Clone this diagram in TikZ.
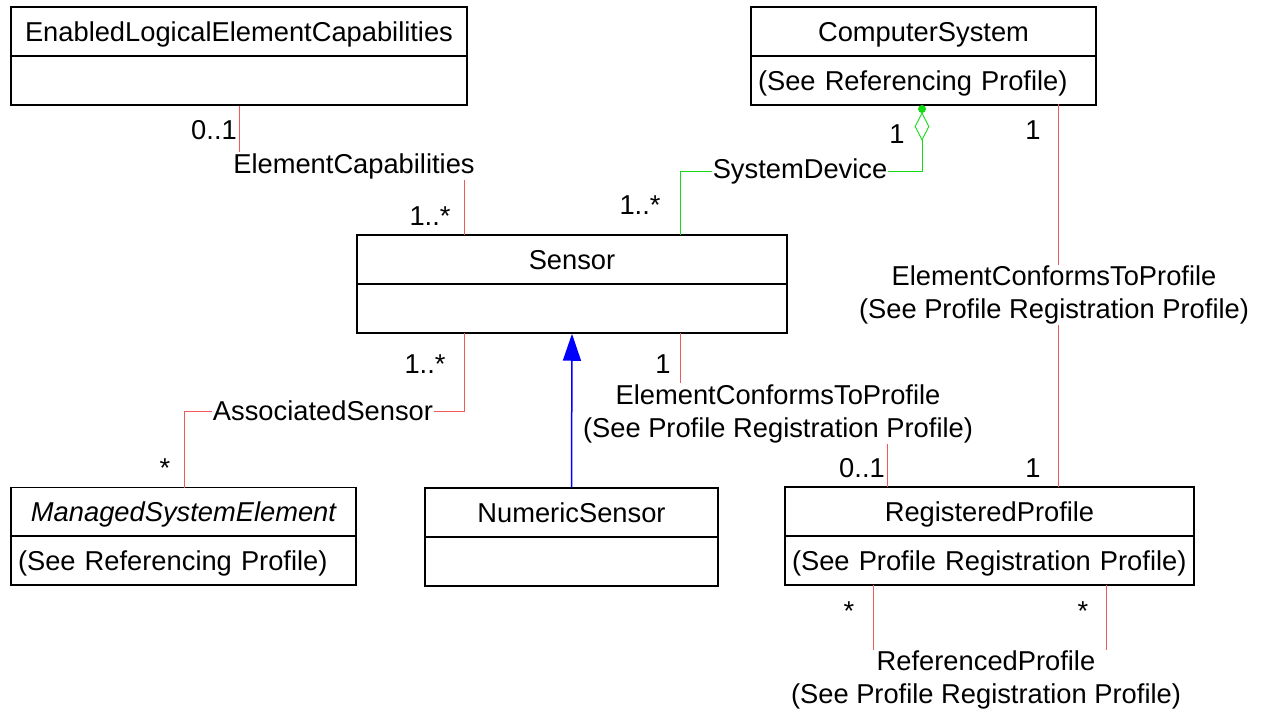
\documentclass[tikz,border=0pt]{standalone}
\usepackage{fontspec}
\setmainfont{Liberation Sans}
\usetikzlibrary{arrows.meta,shapes.geometric}
\definecolor{assocred}{RGB}{240,90,90}
\definecolor{sysgreen}{RGB}{20,220,20}
\tikzset{
    every node/.style={font=\fontsize{27.3}{33}\selectfont},
    classbox/.style={draw, rectangle, line width=1.5pt, inner sep=0pt, minimum height=49pt, text height=20pt, text depth=1pt},
    classbody/.style={classbox, align=left, inner xsep=7pt},
    assoclabel/.style={align=center, inner sep=1pt},
    mult/.style={anchor=base, inner sep=0pt},
    assoc/.style={draw=assocred, line width=0.9pt},
    sysdev/.style={draw=sysgreen, line width=0.9pt},
    inherit/.style={draw=blue, line width=1.5pt, -{Triangle[width=18pt,length=27pt]}}
}
\begin{document}
\begin{tikzpicture}[x=1pt,y=-1pt]
                    \useasboundingbox (0,0) rectangle (1262,715);
                    \node[classbox, minimum width=456pt] (elecH) at (239,31.5) {EnabledLogicalElementCapabilities};
                    \node[classbox, minimum width=456pt] (elecB) at (239,80.5) {};
                    \node[classbox, minimum width=345pt] (csH) at (923.5,31.5) {ComputerSystem};
                    \node[classbody, text width=331pt] (csB) at (923.5,80.5) {(See Referencing Profile)};
                    \node[classbox, minimum width=430pt] (sensorH) at (572,259.5) {Sensor};
                    \node[classbox, minimum width=430pt] (sensorB) at (572,308.5) {};
                    \node[classbox, minimum width=345pt] (mseH) at (183.5,512) {\itshape ManagedSystemElement};
                    \node[classbody, text width=331pt] (mseB) at (183.5,560.5) {(See Referencing Profile)};
                    \node[classbox, minimum width=293pt] (numH) at (571.5,512.5) {NumericSensor};
                    \node[classbox, minimum width=293pt] (numB) at (571.5,561.5) {};
                    \node[classbox, minimum width=409pt] (rpH) at (989.5,511.5) {RegisteredProfile};
                    \node[classbody, text width=395pt] (rpB) at (989.5,560.5) {(See Profile Registration Profile)};

                    \node[assoclabel] (capLbl) at (354,166) {ElementCapabilities};
                    \coordinate (capEnd) at (464,235);
                    \draw[assoc] (elecB.south) -- (elecB.south |- capLbl.north);
                    \draw[assoc] (capLbl.south -| capEnd) -- (capEnd);
                    \node[mult] at (214,139) {0..1};
                    \node[mult] at (430,225) {1..*};

                    \node[assoclabel] (sdLbl) at (800,171) {SystemDevice};
                    \node[draw=sysgreen, line width=0.9pt, diamond, inner sep=0pt, minimum width=14pt, minimum height=27pt] (sdDia) at (922,126.5) {};
                    \node[circle, fill=sysgreen, inner sep=0pt, minimum size=8pt] (sdDot) at (922,109) {};
                    \coordinate (sdEnd) at (680,235);
                    \draw[sysdev] (sdEnd) |- (sdLbl.west);
                    \draw[sysdev] (sdLbl.east) -| (sdDia.south);
                    \node[mult] at (640,214) {1..*};
                    \node[mult] at (897,143) {1};

                    \node[assoclabel] (ecpLbl) at (1054,295) {ElementConformsToProfile\\(See Profile Registration Profile)};
                    \coordinate (ecpTop) at (1058,104);
                    \coordinate (ecpBot) at (1058,487);
                    \draw[assoc] (ecpTop) -- (ecpTop |- ecpLbl.north);
                    \draw[assoc] (ecpLbl.south -| ecpBot) -- (ecpBot);
                    \node[mult] at (1033,139) {1};
                    \node[mult] at (1033,477) {1};

                    \node[assoclabel] (scpLbl) at (778,413.5) {ElementConformsToProfile\\(See Profile Registration Profile)};
                    \coordinate (scpTop) at (680,333);
                    \coordinate (scpBot) at (887,487);
                    \draw[assoc] (scpTop) -- (scpTop |- scpLbl.north);
                    \draw[assoc] (scpLbl.south -| scpBot) -- (scpBot);
                    \node[mult] at (663,373) {1};
                    \node[mult] at (862,477) {0..1};

                    \node[assoclabel] (asLbl) at (323,411) {AssociatedSensor};
                    \coordinate (asTop) at (464,333);
                    \coordinate (asBot) at (184,488);
                    \draw[assoc] (asTop) |- (asLbl.east);
                    \draw[assoc] (asLbl.west) -| (asBot);
                    \node[mult] at (425,373) {1..*};
                    \node[mult] at (165,477) {*};

                    \draw[inherit] (numH.north) -- (sensorB.south);

                    \node[assoclabel] (refLbl) at (986,680) {ReferencedProfile\\(See Profile Registration Profile)};
                    \coordinate (refL) at (873,585);
                    \coordinate (refR) at (1106,585);
                    \draw[assoc] (refL) -- (refL |- refLbl.north);
                    \draw[assoc] (refR) -- (refR |- refLbl.north);
                    \node[mult] at (849,620) {*};
                    \node[mult] at (1083,620) {*};
                \end{tikzpicture}
\end{document}
